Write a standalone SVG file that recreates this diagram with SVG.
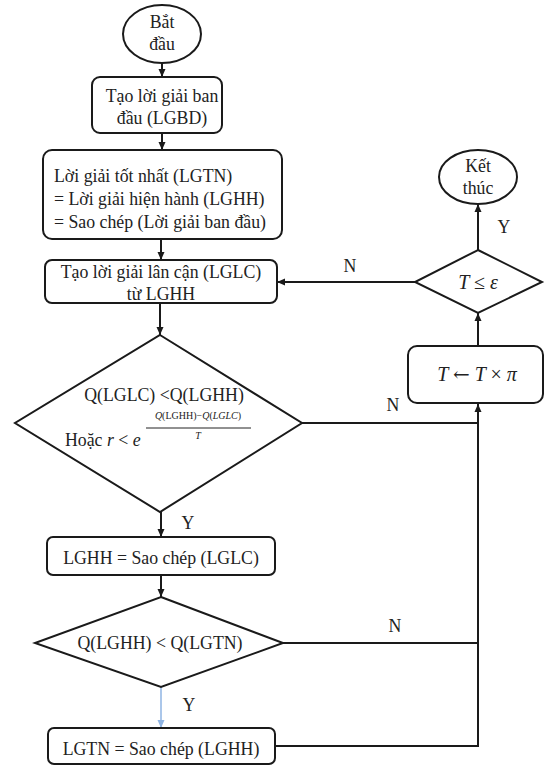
<svg xmlns="http://www.w3.org/2000/svg" width="545" height="766" viewBox="0 0 545 766">
<style>
.s{fill:#fff;stroke:#1a1a1a;stroke-width:2}
.t{font-family:'Liberation Serif','DejaVu Serif',serif;font-size:17.8px;fill:#222;text-anchor:middle}
.i{font-style:italic}
.c{fill:none;stroke:#1a1a1a;stroke-width:2}
.b{fill:none;stroke:#8fb4e3;stroke-width:1.5}
</style>
<defs>
<marker id="a" markerWidth="10" markerHeight="10" refX="9" refY="5" orient="auto" markerUnits="userSpaceOnUse">
<path d="M1,1.5 L9,5 L1,8.5 Z" fill="#1a1a1a"/>
</marker>
<marker id="ab" markerWidth="10" markerHeight="10" refX="9" refY="5" orient="auto" markerUnits="userSpaceOnUse">
<path d="M1,1.5 L9,5 L1,8.5 Z" fill="#8fb4e3"/>
</marker>
</defs>
<rect width="545" height="766" fill="#fff"/>
<g id="connectors">
<line class="c" x1="162" y1="63" x2="162" y2="77" marker-end="url(#a)"/>
<line class="c" x1="162" y1="133" x2="162" y2="150" marker-end="url(#a)"/>
<line class="c" x1="161" y1="239" x2="161" y2="260" marker-end="url(#a)"/>
<line class="c" x1="160" y1="303" x2="160" y2="335" marker-end="url(#a)"/>
<line class="c" x1="161" y1="512" x2="161" y2="537" marker-end="url(#a)"/>
<line class="c" x1="161" y1="575" x2="161" y2="597" marker-end="url(#a)"/>
<line class="b" x1="161" y1="687" x2="161" y2="728" marker-end="url(#ab)"/>
<polyline class="c" points="302,423 478,423"/>
<polyline class="c" points="283,643 478,643"/>
<polyline class="c" points="275,746 478,746 478,404" marker-end="url(#a)"/>
<line class="c" x1="478" y1="346" x2="478" y2="313" marker-end="url(#a)"/>
<line class="c" x1="478" y1="250" x2="478" y2="204" marker-end="url(#a)"/>
<line class="c" x1="415" y1="282" x2="277" y2="282" marker-end="url(#a)"/>
<text class="t" x="188" y="529">Y</text>
<text class="t" x="189" y="711">Y</text>
<text class="t" x="504" y="233">Y</text>
<text class="t" x="350" y="272">N</text>
<text class="t" x="393" y="411">N</text>
<text class="t" x="395" y="632">N</text>
</g>
<g id="start">
<ellipse class="s" cx="162" cy="34" rx="39" ry="29"/>
<text class="t" x="162" y="28">Bắt</text>
<text class="t" x="162" y="50">đầu</text>
</g>
<g id="init">
<rect class="s" x="92" y="77" width="130" height="56" rx="8"/>
<text class="t" x="162" y="102">Tạo lời giải ban</text>
<text class="t" x="162" y="124">đầu (LGBD)</text>
</g>
<g id="assign">
<rect class="s" x="43" y="150" width="239" height="89" rx="9"/>
<text class="t" x="54" y="182" style="text-anchor:start">Lời giải tốt nhất (LGTN)</text>
<text class="t" x="54" y="205" style="text-anchor:start">= Lời giải hiện hành (LGHH)</text>
<text class="t" x="54" y="228" style="text-anchor:start">= Sao chép (Lời giải ban đầu)</text>
</g>
<g id="neighbor">
<rect class="s" x="45" y="260" width="232" height="43" rx="7"/>
<text class="t" x="161" y="278">Tạo lời giải lân cận (LGLC)</text>
<text class="t" x="161" y="300">từ LGHH</text>
</g>
<g id="cond1">
<polygon class="s" points="160,335 302,423 160,512 15,423"/>
<text class="t" x="164" y="401">Q(LGLC) &lt;Q(LGHH)</text>
<text class="t" x="65" y="446" style="text-anchor:start">Hoặc <tspan class="i">r</tspan> &lt; <tspan class="i">e</tspan></text>
<text class="t" x="198" y="419" style="font-size:10px"><tspan class="i">Q</tspan>(LGHH)−<tspan class="i">Q</tspan>(<tspan class="i">LGLC</tspan>)</text>
<line x1="146" y1="428" x2="251" y2="428" stroke="#222" stroke-width="1"/>
<text class="t i" x="198" y="439" style="font-size:10px">T</text>
</g>
<g id="copy1">
<rect class="s" x="47" y="537" width="228" height="38" rx="6"/>
<text class="t" x="161" y="564">LGHH = Sao chép (LGLC)</text>
</g>
<g id="cond2">
<polygon class="s" points="161,597 283,643 161,687 35,643"/>
<text class="t" x="160" y="649">Q(LGHH) &lt; Q(LGTN)</text>
</g>
<g id="copy2">
<rect class="s" x="48" y="728" width="227" height="36" rx="6"/>
<text class="t" x="161" y="755">LGTN = Sao chép (LGHH)</text>
</g>
<g id="cool">
<rect class="s" x="408" y="346" width="135" height="57" rx="9"/>
<text class="t i" x="477" y="381" style="font-size:20px">T <tspan style="font-style:normal;font-family:'DejaVu Serif',serif">←</tspan> T <tspan style="font-style:normal">×</tspan> π</text>
</g>
<g id="cond3">
<polygon class="s" points="478,250 542,282 478,313 415,282"/>
<text class="t i" x="478" y="289" style="font-size:20px">T <tspan style="font-style:normal">≤</tspan> ε</text>
</g>
<g id="end">
<ellipse class="s" cx="478" cy="177" rx="39" ry="27"/>
<text class="t" x="478" y="172">Kết</text>
<text class="t" x="478" y="194">thúc</text>
</g>
</svg>
